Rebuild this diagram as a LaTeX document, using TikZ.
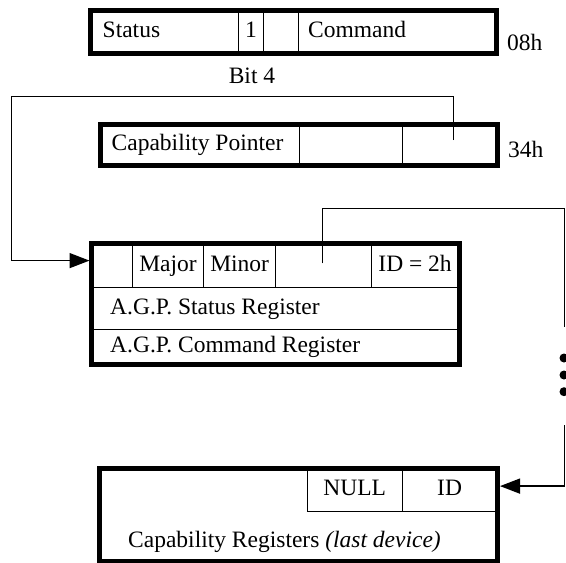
\documentclass[tikz,border=0pt]{standalone}
\usepackage{fontspec}
\setmainfont{Liberation Serif}
\usetikzlibrary{positioning,arrows.meta}

\begin{document}
\begin{tikzpicture}[x=1pt,y=-1pt,every node/.style={font=\fontsize{23.5}{27}\selectfont,inner sep=0pt,text height=16pt,text depth=5pt},
  cell/.style={draw,line width=1pt,anchor=north west},
  frame/.style={draw,line width=4.5pt},
  link/.style={line width=1.4pt},
  tip/.style={-{Triangle[length=20pt,width=15pt]},line width=1.4pt}]
  \useasboundingbox (0,0) rectangle (566,563);

  % status / command register (08h)
  \node[cell,minimum width=147.5pt,minimum height=42pt] (stat) at (90.5,10.5) {};
  \node[cell,minimum width=25pt,minimum height=42pt] (bitfour) at (238,10.5) {1};
  \node[cell,minimum width=35pt,minimum height=42pt] (stblank) at (263,10.5) {};
  \node[cell,minimum width=197.5pt,minimum height=42pt] (cmd) at (298,10.5) {};
  \node[right=12pt of stat.west] (stattxt) {Status};
  \node[right=10pt of cmd.west] (cmdtxt) {Command};
  \draw[frame] (stat.north west) rectangle (cmd.south east);
  \node[anchor=west] (off08) at (507,45) {08h};
  \node (bitlbl) at (252,78) {Bit 4};

  % capability pointer (34h)
  \node[cell,minimum width=198.5pt,minimum height=40pt] (cptr) at (100.5,124.5) {};
  \node[cell,minimum width=103pt,minimum height=40pt] (cpmid) at (299,124.5) {};
  \node[cell,minimum width=94.5pt,minimum height=40pt] (cplow) at (402,124.5) {};
  \node[right=11pt of cptr.west] (cptrtxt) {Capability Pointer};
  \draw[frame] (cptr.north west) rectangle (cplow.south east);
  \node[anchor=west] (off34) at (508,152) {34h};

  % A.G.P. capability block
  \node[cell,minimum width=40.2pt,minimum height=43.2pt] (agpa) at (91.5,243.5) {};
  \node[cell,minimum width=71.6pt,minimum height=43.2pt] (major) at (131.7,243.5) {Major};
  \node[cell,minimum width=71.7pt,minimum height=43.2pt] (minor) at (203.3,243.5) {Minor};
  \node[cell,minimum width=95.7pt,minimum height=43.2pt] (agpnext) at (275,243.5) {};
  \node[cell,minimum width=87.8pt,minimum height=43.2pt] (agpid) at (370.7,243.5) {ID = 2h};
  \node[cell,minimum width=367pt,minimum height=42.6pt] (agpstat) at (91.5,286.7) {};
  \node[cell,minimum width=367pt,minimum height=34.2pt] (agpcmd) at (91.5,329.3) {};
  \node[right=18.5pt of agpstat.west] (agpstattxt) {A.G.P. Status Register};
  \node[right=18.5pt of agpcmd.west] (agpcmdtxt) {A.G.P. Command Register};
  \draw[frame] (agpa.north west) rectangle (agpcmd.south east);

  % last device
  \node[cell,minimum width=95pt,minimum height=42.2pt] (nullptr) at (306.7,468.5) {NULL};
  \node[cell,minimum width=94.8pt,minimum height=42.2pt] (lastid) at (401.7,468.5) {ID};
  \coordinate (lastcorner) at (99.5,468.5);
  \node[anchor=west] (lasttxt) at (128,541.5) {Capability Registers \textit{(last device)}};
  \draw[frame] (lastcorner) rectangle ([yshift=-50pt]lastid.south east);

  % pointer chain
  \coordinate (ptrA) at (453.3,140);
  \coordinate (turnA) at (11.7,96.7);
  \draw[tip,shorten >=2pt] (ptrA) |- (turnA) |- ([yshift=5pt]agpa.west);

  \coordinate (ptrB) at (322.7,263.3);
  \coordinate (turnB) at (564.5,208.3);
  \coordinate (gapB) at (564.5,326.7);
  \draw[link] (ptrB) |- (turnB) -- (gapB);
  \foreach \y in {358,375,391.7}
    \fill (564,\y) circle (4.5pt);
  \coordinate (gapC) at (564.5,425);
  \draw[tip,shorten >=2.5pt] (gapC) |- ([yshift=4pt]lastid.east);
\end{tikzpicture}
\end{document}
